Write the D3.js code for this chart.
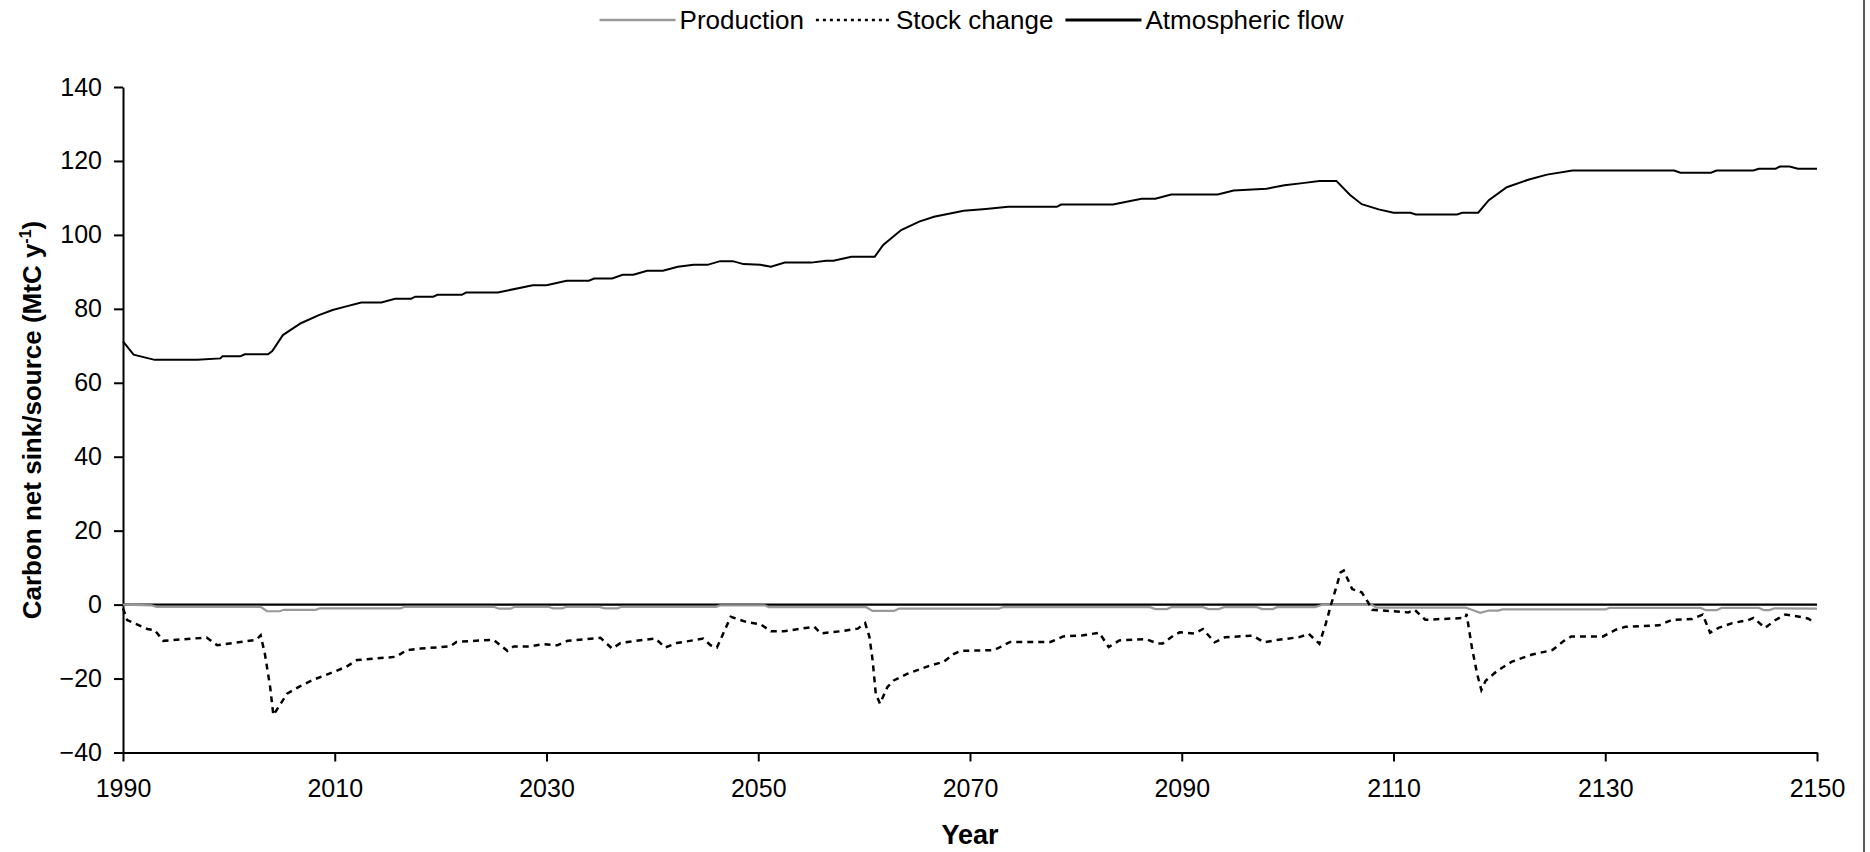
<!DOCTYPE html>
<html>
<head>
<meta charset="utf-8">
<script src="https://cdn.jsdelivr.net/npm/d3@7"></script>
<style>
  body { margin: 0; background: #fff; }
  text { font-family: "Liberation Sans", Arial, sans-serif; fill: #000; }
</style>
</head>
<body>
<div id="chart"></div>
<script>
// values (year, MtC per year)
var atmYears = [1990, 1991, 1993, 1997, 1999.2, 1999.4, 2001.1, 2001.5, 2003.7, 2004.1, 2005.1, 2006.8, 2008.5, 2009.8, 2011, 2012.5, 2014.4, 2015.7, 2017.2, 2017.6, 2019.3, 2019.7, 2022, 2022.4, 2025.4, 2026.2, 2028.7, 2030, 2031.9, 2034, 2034.5, 2036.2, 2037.2, 2038.2, 2039.5, 2041, 2042.4, 2043.9, 2045.2, 2046.4, 2047.6, 2048.6, 2050.2, 2051.2, 2052.5, 2055, 2056.4, 2057.1, 2058.8, 2061, 2061.8, 2063.5, 2065.2, 2066.6, 2069.4, 2071.5, 2073.6, 2078.2, 2078.6, 2083.5, 2086.2, 2087.5, 2089, 2093.4, 2094.9, 2098, 2099.7, 2101.4, 2103, 2104.6, 2105.9, 2107, 2108.6, 2110, 2111.6, 2112.1, 2116, 2116.5, 2118, 2119, 2120.7, 2122.8, 2124.5, 2126.9, 2136.5, 2137.1, 2140, 2140.5, 2144, 2144.5, 2146.1, 2146.5, 2147.4, 2148.2, 2150];
var atmValues = [71.2, 67.6, 66.2, 66.2, 66.6, 67.2, 67.2, 67.7, 67.7, 68.6, 72.9, 76.1, 78.3, 79.7, 80.6, 81.7, 81.7, 82.7, 82.7, 83.3, 83.3, 83.8, 83.8, 84.4, 84.4, 84.9, 86.4, 86.4, 87.6, 87.6, 88.2, 88.2, 89.2, 89.2, 90.3, 90.3, 91.4, 91.9, 91.9, 92.9, 92.9, 92.1, 91.9, 91.4, 92.5, 92.5, 93.0, 93.0, 94.1, 94.1, 97.3, 101.3, 103.6, 104.9, 106.5, 107.0, 107.6, 107.6, 108.2, 108.2, 109.8, 109.8, 110.9, 110.9, 112.0, 112.5, 113.4, 114.0, 114.6, 114.6, 110.8, 108.3, 106.9, 106.0, 106.0, 105.5, 105.5, 106.0, 106.0, 109.4, 112.9, 115.0, 116.3, 117.4, 117.4, 116.8, 116.8, 117.4, 117.4, 117.9, 117.9, 118.5, 118.5, 117.9, 117.9];

var prodYears = [1990, 1992.7, 1993.2, 2003.0, 2003.6, 2004.8, 2005.2, 2008.2, 2008.6, 2016.2, 2016.6, 2025, 2025.5, 2026.6, 2027, 2030.2, 2030.6, 2031.5, 2031.9, 2035, 2035.5, 2036.7, 2037.1, 2046, 2046.4, 2050.6, 2051, 2060.2, 2060.8, 2062.8, 2063.3, 2072.7, 2073.1, 2087, 2087.5, 2088.6, 2089, 2092, 2092.5, 2093.5, 2094, 2097.1, 2097.6, 2098.6, 2099, 2102.6, 2103.2, 2108, 2108.4, 2116.8, 2118.2, 2119, 2119.9, 2120.3, 2130, 2130.4, 2139, 2139.5, 2140.5, 2141, 2144.5, 2145, 2145.5, 2146, 2150];
var prodValues = [0, -0.2, -0.6, -0.6, -1.8, -1.8, -1.4, -1.4, -1.0, -1.0, -0.6, -0.6, -1.1, -1.1, -0.6, -0.6, -1.0, -1.0, -0.6, -0.6, -1.0, -1.0, -0.6, -0.6, -0.2, -0.2, -0.7, -0.7, -1.7, -1.7, -1.1, -1.1, -0.7, -0.7, -1.2, -1.2, -0.7, -0.7, -1.2, -1.2, -0.7, -0.7, -1.2, -1.2, -0.7, -0.7, -0.1, -0.1, -0.8, -0.8, -2.2, -1.6, -1.6, -1.3, -1.3, -0.9, -0.9, -1.5, -1.5, -0.9, -0.9, -1.5, -1.5, -1.0, -1.1];

var stockYears = [1990, 1990.4, 1992.3, 1993, 1993.8, 1997.9, 1998.9, 2002.6, 2003, 2003.4, 2003.9, 2004.2, 2004.8, 2005.5, 2006.7, 2008, 2009.9, 2011.1, 2012.1, 2015.8, 2016.8, 2018.1, 2020.9, 2021.5, 2025, 2026.3, 2026.9, 2028.5, 2029.7, 2031, 2032, 2035.1, 2036.2, 2037, 2039.2, 2040.3, 2041.2, 2042.3, 2044.8, 2045.5, 2046.1, 2047.4, 2048.9, 2050.2, 2051.2, 2052.4, 2055.3, 2055.9, 2057.8, 2059.4, 2060.1, 2060.5, 2060.8, 2061.1, 2061.5, 2062.2, 2062.8, 2064.1, 2066.3, 2067.5, 2068.5, 2069.1, 2072.3, 2073.8, 2077.6, 2078.8, 2080.7, 2082.2, 2083.1, 2084.1, 2086.6, 2087.7, 2088.2, 2089.2, 2089.8, 2091.2, 2092, 2093.1, 2094.1, 2096.7, 2097.8, 2098.9, 2101.1, 2102, 2103, 2103.6, 2104.1, 2104.5, 2105, 2105.3, 2106.1, 2107, 2107.6, 2108, 2111.4, 2112, 2113, 2116.8, 2116.9, 2117.4, 2117.9, 2118.3, 2118.7, 2119.8, 2121.2, 2123.1, 2125, 2126.1, 2126.8, 2129.8, 2131, 2131.9, 2135.1, 2136.3, 2138.2, 2139.2, 2139.9, 2140.7, 2142, 2143.5, 2144, 2144.8, 2145.1, 2146, 2147, 2148.2, 2149.2, 2149.8];
var stockValues = [-1.0, -4.2, -6.6, -6.9, -9.8, -8.9, -11.0, -9.5, -8.3, -13.3, -22.3, -29.9, -27.2, -24.1, -22.1, -20.3, -18.2, -16.8, -15.0, -14.1, -12.3, -11.9, -11.3, -10.1, -9.5, -12.5, -11.3, -11.3, -10.7, -11.0, -9.8, -9.0, -11.9, -10.4, -9.5, -9.2, -11.6, -10.4, -9.2, -11.0, -11.6, -3.3, -4.7, -5.3, -7.2, -7.2, -6.0, -7.8, -7.2, -6.5, -5.0, -8.7, -15.0, -24.1, -26.8, -22.3, -20.5, -18.7, -16.4, -15.5, -13.3, -12.5, -12.3, -10.1, -10.1, -8.6, -8.3, -7.6, -11.5, -9.7, -9.3, -10.5, -10.5, -8.4, -7.5, -7.8, -6.6, -10.2, -8.8, -8.4, -10.2, -9.6, -8.8, -7.9, -10.6, -5.2, 0, 3.8, 8.7, 9.2, 4.2, 3.3, 0.6, -1.4, -2.1, -1.4, -4.1, -3.6, -2.5, -11.5, -18.8, -23.1, -20.6, -17.9, -15.4, -13.5, -12.3, -9.8, -8.6, -8.6, -6.8, -6.0, -5.6, -4.1, -3.9, -2.7, -7.6, -6.3, -5.0, -4.2, -3.6, -5.6, -6.3, -4.3, -2.7, -3.2, -3.8, -5.0];

var xTicks = [1990, 2010, 2030, 2050, 2070, 2090, 2110, 2130, 2150];
var yTicks = [-40, -20, 0, 20, 40, 60, 80, 100, 120, 140];
var seriesNames = ["Production", "Stock change", "Atmospheric flow"];

var W = 1870, H = 852;
var margin = { left: 123, right: 53, top: 87, bottom: 99.5 };

var svg = d3.select('#chart')
	.append('svg')
		.attr('width', W)
		.attr('height', H);

var x = d3.scaleLinear().domain([1990, 2150]).range([margin.left, W - margin.right]);
var y = d3.scaleLinear().domain([-40, 140]).range([H - margin.bottom, margin.top]);

function pairs(xs, vs) {
	return xs.map(function(d, i) { return [d, vs[i]]; });
}

var line = d3.line()
	.x(function(d) { return x(d[0]); })
	.y(function(d) { return y(d[1]); });

// axes
svg.append('g')
	.attr('transform', 'translate(' + margin.left + ',0)')
	.call(d3.axisLeft(y).tickValues(yTicks).tickSize(9).tickSizeOuter(0).tickPadding(12));

svg.append('g')
	.attr('transform', 'translate(0,' + y(-40) + ')')
	.call(d3.axisBottom(x).tickValues(xTicks).tickFormat(d3.format('d')).tickSize(9).tickSizeOuter(0).tickPadding(18));

svg.selectAll('.tick text').attr('font-size', 25).attr('font-family', '"Liberation Sans", Arial, sans-serif').attr('fill', '#000');
svg.selectAll('.domain, .tick line').attr('stroke', '#000').attr('stroke-width', 2);

// zero line
svg.append('line')
	.attr('x1', x(1990)).attr('x2', x(2150))
	.attr('y1', y(0)).attr('y2', y(0))
	.attr('stroke', '#000')
	.attr('stroke-width', 2.2);

svg.append('path')
	.datum(pairs(prodYears, prodValues))
	.attr('d', line)
	.attr('fill', 'none')
	.attr('stroke', '#999')
	.attr('stroke-width', 2.2);

svg.append('path')
	.datum(pairs(stockYears, stockValues))
	.attr('d', line)
	.attr('fill', 'none')
	.attr('stroke', '#000')
	.attr('stroke-width', 2.5)
	.attr('stroke-dasharray', '6,5');

svg.append('path')
	.datum(pairs(atmYears, atmValues))
	.attr('d', line)
	.attr('fill', 'none')
	.attr('stroke', '#000')
	.attr('stroke-width', 2);

// axis titles
svg.append('text')
	.attr('x', (x(1990) + x(2150)) / 2)
	.attr('y', 844)
	.attr('text-anchor', 'middle')
	.attr('font-size', 27)
	.attr('font-weight', 'bold')
	.text('Year');

var yt = svg.append('text')
	.attr('transform', 'translate(41,420) rotate(-90)')
	.attr('text-anchor', 'middle')
	.attr('font-size', 26)
	.attr('font-weight', 'bold');
yt.append('tspan').text('Carbon net sink/source (MtC y');
yt.append('tspan').attr('font-size', 16).attr('dy', -10).text('-1');
yt.append('tspan').attr('dy', 10).text(')');

// legend
var legStyles = [
	{ stroke: '#999', width: 2.5, dash: null },
	{ stroke: '#000', width: 2.5, dash: '3,4' },
	{ stroke: '#000', width: 3, dash: null }
];
var leg = svg.append('g');
var lx = 0;
seriesNames.forEach(function(name, i) {
	var s = legStyles[i];
	leg.append('line')
		.attr('x1', lx).attr('x2', lx + 76)
		.attr('y1', 0).attr('y2', 0)
		.attr('stroke', s.stroke)
		.attr('stroke-width', s.width)
		.attr('stroke-dasharray', s.dash);
	var t = leg.append('text')
		.attr('x', lx + 80)
		.attr('y', 9)
		.attr('font-size', 26)
		.text(name);
	lx += 80 + t.node().getComputedTextLength() + 12;
});
lx -= 12;
leg.attr('transform', 'translate(' + (971.5 - lx / 2) + ',20)');

// right border
svg.append('line')
	.attr('x1', 1864).attr('x2', 1864)
	.attr('y1', 0).attr('y2', H)
	.attr('stroke', '#222')
	.attr('stroke-width', 1.5);
</script>
</body>
</html>
